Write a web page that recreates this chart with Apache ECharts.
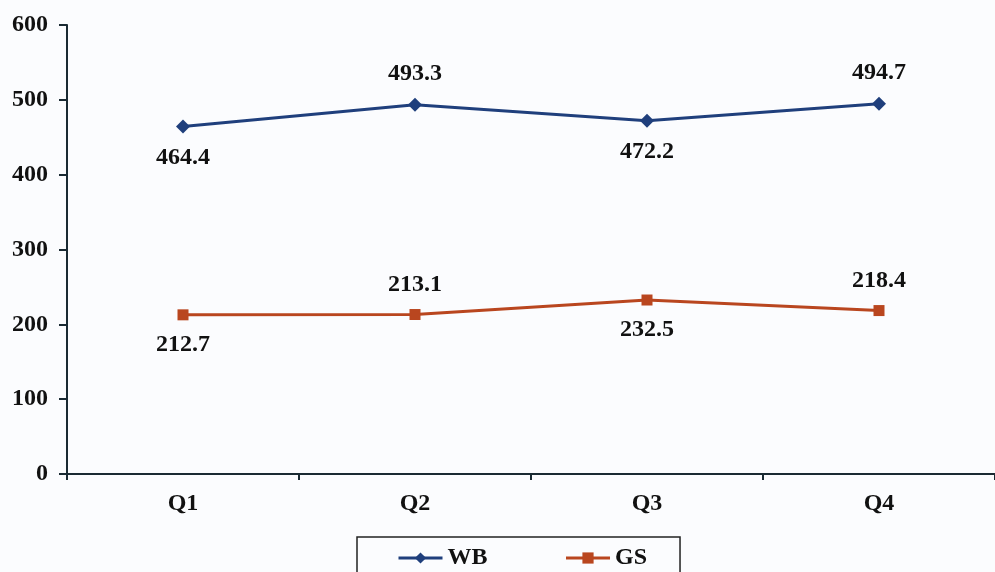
<!DOCTYPE html>
<html><head><meta charset="utf-8">
<script src="https://cdn.jsdelivr.net/npm/echarts@6/dist/echarts.min.js"></script>
<style>html,body{margin:0;padding:0;background:#fbfcfe;}#c{width:995px;height:572px;}</style>
</head><body><div id="c"></div>
<script>
const categories = ['Q1','Q2','Q3','Q4'];
const wbValues = [464.4, 493.3, 472.2, 494.7];
const gsValues = [212.7, 213.1, 232.5, 218.4];
const wbLabelPos = ['bottom','top','bottom','top'];
const gsLabelPos = ['bottom','top','bottom','top'];
const yTicks = [0,100,200,300,400,500,600];

const font = 'Liberation Serif';
const fs = 24;
const chart = echarts.init(document.getElementById('c'));
function mk(vals, pos) {
  return vals.map((v,i)=>({value:v,label:{position:pos[i]}}));
}
chart.setOption({
  backgroundColor:'#fbfcfe',
  animation:false,
  grid:{left:67,right:-1,top:25,bottom:98},
  legend:{
    top:537, left:357,
    data:['WB','GS'],
    itemWidth:44, itemHeight:14, itemGap:77,
    padding:[9,33,30,40],
    borderColor:'#222', borderWidth:1.5,
    lineStyle:{width:3},
    textStyle:{fontFamily:font,fontWeight:'bold',fontSize:fs,color:'#111'}
  },
  xAxis:{
    type:'category', data:categories, boundaryGap:true,
    axisLine:{lineStyle:{color:'#1a2a33',width:2}},
    axisTick:{show:true,length:6,lineStyle:{color:'#1a2a33',width:2}},
    axisLabel:{fontFamily:font,fontWeight:'bold',fontSize:fs,color:'#111',margin:18}
  },
  yAxis:{
    type:'value', min:yTicks[0], max:yTicks[yTicks.length-1], interval:100,
    splitLine:{show:false},
    axisLine:{show:true,lineStyle:{color:'#1a2a33',width:2}},
    axisTick:{show:true,length:8,lineStyle:{color:'#1a2a33',width:2}},
    axisLabel:{fontFamily:font,fontWeight:'bold',fontSize:fs,color:'#111',margin:19}
  },
  series:[
    {name:'WB',type:'line',data:mk(wbValues,wbLabelPos),symbol:'diamond',symbolSize:14,
     itemStyle:{color:'#1f3f7c'},lineStyle:{color:'#1f3f7c',width:3},
     label:{show:true,distance:12,fontFamily:font,fontWeight:'bold',fontSize:fs,color:'#111'}},
    {name:'GS',type:'line',data:mk(gsValues,gsLabelPos),symbol:'rect',symbolSize:11,
     itemStyle:{color:'#b9461f'},lineStyle:{color:'#b9461f',width:3},
     label:{show:true,distance:12,fontFamily:font,fontWeight:'bold',fontSize:fs,color:'#111'}}
  ]
});
</script></body></html>
